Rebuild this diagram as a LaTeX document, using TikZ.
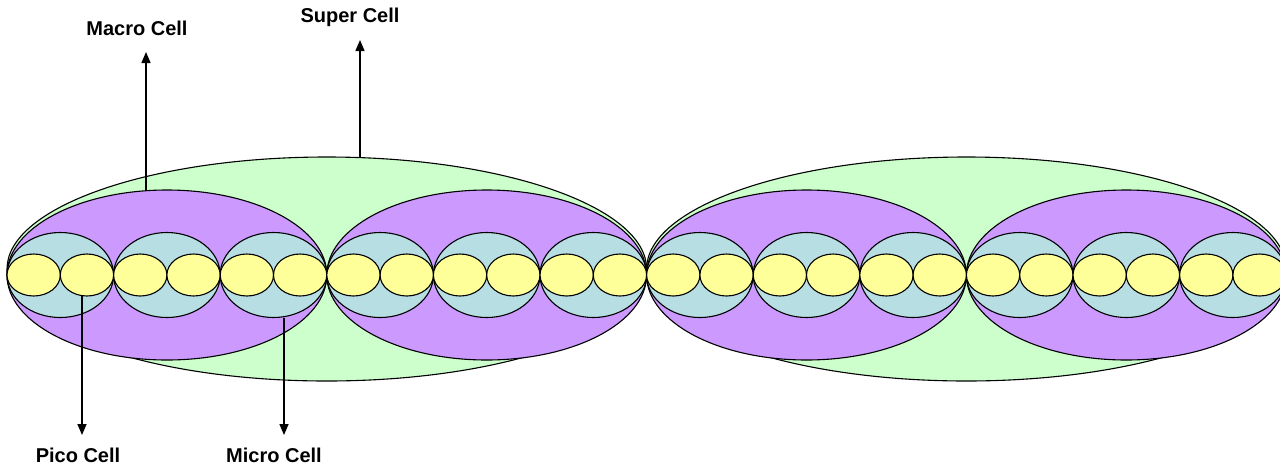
\documentclass[tikz,border=0pt]{standalone}
\usepackage{fontspec}
\setmainfont{Liberation Sans}
\usetikzlibrary{shapes.geometric,arrows.meta}
\definecolor{supercol}{RGB}{204,255,204}
\definecolor{macrocol}{RGB}{204,153,255}
\definecolor{microcol}{RGB}{183,222,227}
\definecolor{picocol}{RGB}{255,255,153}
\tikzset{
  cellshape/.style={ellipse, draw=black, line width=1.1pt, inner sep=0pt, outer sep=0pt},
  supercell/.style={cellshape, fill=supercol, minimum width=639.6pt, minimum height=224pt},
  macrocell/.style={cellshape, fill=macrocol, minimum width=319.8pt, minimum height=170pt},
  microcell/.style={cellshape, fill=microcol, minimum width=106.6pt, minimum height=85pt},
  picocell/.style={cellshape, fill=picocol, minimum width=53.3pt, minimum height=42pt},
  lbl/.style={font=\fontsize{20}{24}\selectfont\bfseries, inner sep=0pt},
  pointer/.style={line width=1.5pt, -{Triangle[length=11pt,width=9pt]}}
}
\begin{document}
\begin{tikzpicture}[x=1pt,y=-1pt]
\useasboundingbox (0,0) rectangle (1280,467);
\foreach \s in {0,1} {
  \node[supercell] (sup\s) at ({7+639.6*(\s+0.5)},269) {};
}
\foreach \k in {0,...,3} {
  \node[macrocell] (mac\k) at ({7+319.8*(\k+0.5)},275) {};
}
\foreach \j in {0,...,11} {
  \node[microcell] (mic\j) at ({7+106.6*(\j+0.5)},275) {};
}
\foreach \i in {0,...,23} {
  \node[picocell] (pic\i) at ({7+53.3*(\i+0.5)},275) {};
}
% labels
\node[lbl] (lmacro) at (137,28) {Macro Cell};
\node[lbl] (lsuper) at (350,17) {Super Cell};
\node[lbl] (lpico) at (78,455) {Pico Cell};
\node[lbl] (lmicro) at (274,455) {Micro Cell};
% arrow tips
\coordinate (tmacro) at (146,52);
\coordinate (tsuper) at (360,40);
\coordinate (tpico) at (82,435);
\coordinate (tmicro) at (284,435);
\draw[pointer] (tmacro |- mac0.north) -- (tmacro);
\draw[pointer] (tsuper |- sup0.north) -- (tsuper);
\draw[pointer] (tpico |- pic1.south) -- (tpico);
\draw[pointer] (tmicro |- mic2.south) -- (tmicro);
\end{tikzpicture}
\end{document}
